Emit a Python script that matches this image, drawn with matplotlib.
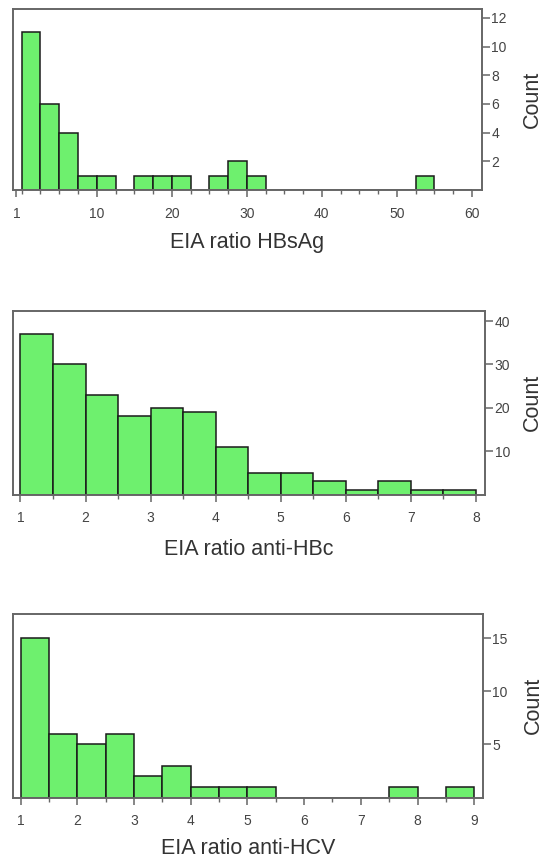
import numpy as np
import matplotlib
matplotlib.use('Agg')
import matplotlib.pyplot as plt
from matplotlib.ticker import MultipleLocator

plt.rcParams['font.family'] = ['Liberation Sans', 'DejaVu Sans']

# HBsAg: bins of 2.5 starting at 0
hbsag_edges = np.arange(0, 60, 2.5)
hbsag_counts = [11, 6, 4, 1, 1, 0, 1, 1, 1, 0, 1, 2, 1,
                0, 0, 0, 0, 0, 0, 0, 0, 1, 0, 0]
hbsag_xticks = [-0.7, 10, 20, 30, 40, 50, 60]
hbsag_xlabels = ['1', '10', '20', '30', '40', '50', '60']
hbsag_yticks = [2, 4, 6, 8, 10, 12]

# anti-HBc: bins of 0.5 from 1 to 8
hbc_edges = np.arange(1, 8, 0.5)
hbc_counts = [37, 30, 23, 18, 20, 19, 11, 5, 5, 3, 1, 3, 1, 1]
hbc_xticks = [1, 2, 3, 4, 5, 6, 7, 8]
hbc_yticks = [10, 20, 30, 40]

# anti-HCV: bins of 0.5 from 1 to 9
hcv_edges = np.arange(1, 9, 0.5)
hcv_counts = [15, 6, 5, 6, 2, 3, 1, 1, 1, 0, 0, 0, 0, 1, 0, 1]
hcv_xticks = [1, 2, 3, 4, 5, 6, 7, 8, 9]
hcv_yticks = [5, 10, 15]

green = '#6ef06e'
spine_col = '#666666'
tick_col = '#444444'

fig = plt.figure(figsize=(5.43, 8.59), dpi=100)


def panel(rect, edges, counts, width, xlim, ylim, xticks, xlabels, yticks,
          minor, xlabel, xpad, ypad):
    ax = fig.add_axes(rect)
    ax.bar(edges, counts, width=width, align='edge', color=green,
           edgecolor='#1a1a1a', linewidth=1.1, zorder=2)
    ax.set_xlim(*xlim)
    ax.set_ylim(*ylim)
    ax.set_xticks(xticks)
    ax.set_xticklabels(xlabels if xlabels else [str(t) for t in xticks])
    ax.xaxis.set_minor_locator(MultipleLocator(minor))
    ax.set_yticks(yticks)
    ax.yaxis.tick_right()
    ax.yaxis.set_label_position('right')
    for s in ax.spines.values():
        s.set_color(spine_col)
        s.set_linewidth(1.4)
    ax.tick_params(axis='x', which='major', direction='out', length=5,
                   width=1.1, color=spine_col, labelsize=10,
                   labelcolor=tick_col, pad=7)
    ax.tick_params(axis='x', which='minor', direction='out', length=3,
                   width=1.0, color=spine_col)
    ax.tick_params(axis='y', which='major', direction='out', length=6,
                   width=1.1, color=spine_col, labelsize=10,
                   labelcolor=tick_col, pad=1)
    ax.set_xlabel(xlabel, fontsize=15.5, color='#333333', labelpad=xpad)
    ax.set_ylabel('Count', fontsize=15.5, color='#333333', labelpad=ypad)
    return ax


panel([13.3 / 543, 1 - 190 / 859, 468.4 / 543, 180.7 / 859],
      hbsag_edges, hbsag_counts, 2.5, (-1.12, 61.3), (0, 12.6),
      hbsag_xticks, hbsag_xlabels, hbsag_yticks, 2.5, 'EIA ratio HBsAg', 8, 11)

panel([13.3 / 543, 1 - 494.5 / 859, 471.7 / 543, 183.8 / 859],
      hbc_edges, hbc_counts, 0.5, (0.89, 8.14), (0, 42.4),
      hbc_xticks, None, hbc_yticks, 0.5, 'EIA ratio anti-HBc', 10, 8)

panel([13.3 / 543, 1 - 797.5 / 859, 469.4 / 543, 183.5 / 859],
      hcv_edges, hcv_counts, 0.5, (0.87, 9.15), (0, 17.3),
      hcv_xticks, None, hcv_yticks, 0.5, 'EIA ratio anti-HCV', 7, 11)

plt.savefig('out.png', dpi=100)
